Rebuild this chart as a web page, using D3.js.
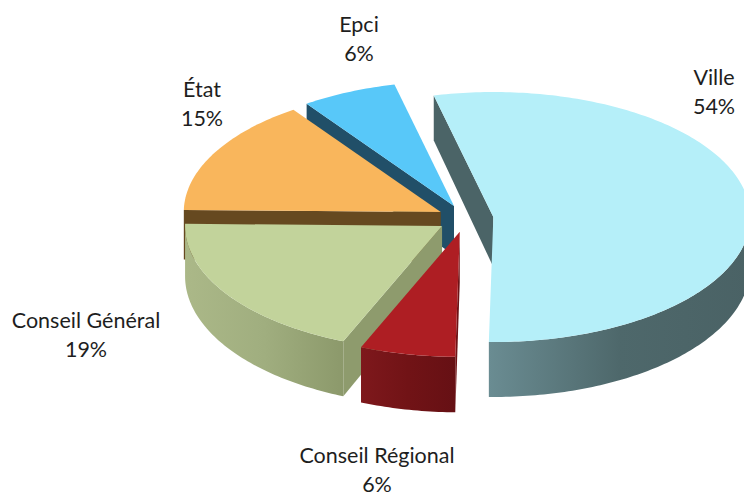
<!DOCTYPE html>
<html>
<head>
<meta charset="utf-8">
<script src="https://cdn.jsdelivr.net/npm/d3@7"></script>
<style>
  body { margin: 0; background: #fff; }
  svg { display: block; }
  .lbl { font-family: Lato, "Open Sans", sans-serif; font-size: 21.5px; fill: #1e1e1e; }
</style>
</head>
<body>
<div id="chart"></div>
<script>
// data
var categories = ["Ville", "Conseil Régional", "Conseil Général", "État", "Epci"];
var values = [54, 6, 19, 15, 6];
var pctLabels = ["54%", "6%", "19%", "15%", "6%"];

// look
var topColors = ["#b5eff9", "#ae1e23", "#c2d39b", "#f9b65c", "#58c8f9"];
var radialColors = ["#4b6467", "#6e1215", "#8e9b6d", "#664920", "#214f68"];
var wallStops = [
    ["#6a8c92", "#4e686b", "#4a6265"],
    ["#7e181c", "#711316", "#661014"],
    ["#abb888", "#a0ae7f", "#8c996b"],
    ["#664920", "#664920", "#664920"],
    ["#214f68", "#214f68", "#214f68"]
];
// label anchors (center x, first baseline)
var labelPos = [[714, 85], [377, 463], [86, 328], [202, 97], [359, 32]];

var width = 744, height = 495;
var cx = 465.5, cy = 218.5, rx = 257, ry = 125;
var depth = 50;          // slice thickness in px at the centre
var explode = 28 / rx;   // explosion in unit radius

var x = d3.scaleLinear().domain([-1, 1]).range([cx - rx, cx + rx]);
var y = d3.scaleLinear().domain([-1, 1]).range([cy - ry, cy + ry]);
// slightly thicker toward the viewer
var thick = d3.scaleLinear().domain([-1, 1]).range([depth * 0.9, depth * 1.1]);

var svg = d3.select("#chart")
    .append("svg")
    .attr("width", width)
    .attr("height", height);

var defs = svg.append("defs");

var startA = (181 - 360 * values[0] / 100) * Math.PI / 180;
var arcs = d3.pie().sort(null)
    .startAngle(startA)
    .endAngle(startA + 2 * Math.PI)(values);

// point on a slice: angle a, unit radius r, bottom? (false top, true bottom)
function pt(d, a, r, bottom) {
    var m = (d.startAngle + d.endAngle) / 2;
    var ux = explode * Math.sin(m) + r * Math.sin(a);
    var uy = -(explode * Math.cos(m) + r * Math.cos(a));
    return [x(ux), y(uy) + (bottom ? thick(uy) : 0)];
}

function arcPts(d, a0, a1, bottom) {
    var n = Math.max(2, Math.ceil(Math.abs(a1 - a0) * 60));
    var out = [];
    for (var i = 0; i <= n; i++) {
        out.push(pt(d, a0 + (a1 - a0) * i / n, 1, bottom));
    }
    return out;
}

var line = d3.line();

// back slices first
var order = arcs.map(function (d, i) { return i; })
    .sort(function (a, b) {
        var ma = (arcs[a].startAngle + arcs[a].endAngle) / 2;
        var mb = (arcs[b].startAngle + arcs[b].endAngle) / 2;
        return -Math.cos(ma) - -Math.cos(mb);
    });

var g = svg.append("g");

order.forEach(function (i) {
    var d = arcs[i];
    var a0 = d.startAngle, a1 = d.endAngle;
    var sg = g.append("g").attr("class", "slice");

    // radial walls
    if (Math.sin(a0) < 0) {
        var w0 = [pt(d, 0, 0, false), pt(d, a0, 1, false), pt(d, a0, 1, true), pt(d, 0, 0, true)];
        sg.append("path").attr("d", line(w0) + "Z").attr("fill", radialColors[i]);
    }
    if (Math.sin(a1) > 0) {
        var w1 = [pt(d, 0, 0, false), pt(d, a1, 1, false), pt(d, a1, 1, true), pt(d, 0, 0, true)];
        sg.append("path").attr("d", line(w1) + "Z").attr("fill", radialColors[i]);
    }

    // outer wall, front half only
    [0, -2 * Math.PI, 2 * Math.PI].forEach(function (shift) {
        var lo = Math.max(a0, Math.PI / 2 + shift);
        var hi = Math.min(a1, 3 * Math.PI / 2 + shift);
        if (hi <= lo) return;
        var topE = arcPts(d, lo, hi, false);
        var botE = arcPts(d, hi, lo, true);
        var xs = topE.map(function (p) { return p[0]; });
        var gid = "wall" + i + "_" + (shift < 0 ? "m" : shift > 0 ? "p" : "0");
        var grad = defs.append("linearGradient")
            .attr("id", gid)
            .attr("gradientUnits", "userSpaceOnUse")
            .attr("x1", d3.min(xs)).attr("x2", d3.max(xs))
            .attr("y1", 0).attr("y2", 0);
        grad.selectAll("stop").data(wallStops[i]).enter().append("stop")
            .attr("offset", function (c, k) { return k / (wallStops[i].length - 1); })
            .attr("stop-color", function (c) { return c; });
        sg.append("path")
            .attr("d", line(topE.concat(botE)) + "Z")
            .attr("fill", "url(#" + gid + ")");
    });

    // top face
    var face = [pt(d, 0, 0, false)].concat(arcPts(d, a0, a1, false));
    sg.append("path").attr("d", line(face) + "Z").attr("fill", topColors[i]);
});

// labels
var lab = svg.append("g");
categories.forEach(function (c, i) {
    var t = lab.append("text")
        .attr("class", "lbl")
        .attr("text-anchor", "middle")
        .attr("x", labelPos[i][0])
        .attr("y", labelPos[i][1]);
    t.append("tspan").attr("x", labelPos[i][0]).text(c);
    t.append("tspan").attr("x", labelPos[i][0]).attr("dy", 29).text(pctLabels[i]);
});
</script>
</body>
</html>
